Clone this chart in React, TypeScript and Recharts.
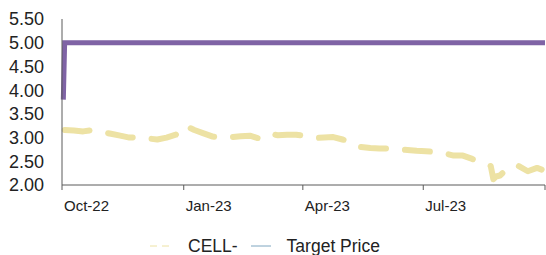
import React from 'react';
import { LineChart, Line, XAxis, YAxis, Legend } from 'recharts';

const FONT = '"Liberation Sans", Arial, sans-serif';

// CELL- closing price (roughly weekly)
const cellDates = [
    '2022-10-03', '2022-10-10', '2022-10-17', '2022-10-24', '2022-10-31', '2022-11-07', '2022-11-14',
    '2022-11-21', '2022-11-28', '2022-12-05', '2022-12-12', '2022-12-19', '2022-12-26', '2023-01-02',
    '2023-01-09', '2023-01-16', '2023-01-23', '2023-01-30', '2023-02-06', '2023-02-13', '2023-02-20',
    '2023-02-27', '2023-03-06', '2023-03-13', '2023-03-20', '2023-03-27', '2023-04-03', '2023-04-10',
    '2023-04-17', '2023-04-24', '2023-05-01', '2023-05-08', '2023-05-15', '2023-05-22', '2023-05-29',
    '2023-06-05', '2023-06-12', '2023-06-19', '2023-06-26', '2023-07-03', '2023-07-10', '2023-07-17',
    '2023-07-24', '2023-07-31', '2023-08-07', '2023-08-14', '2023-08-21', '2023-08-23', '2023-08-25',
    '2023-08-28', '2023-09-04', '2023-09-11', '2023-09-18', '2023-09-25', '2023-09-29',
];
const cellValues = [
    3.16, 3.15, 3.13, 3.16, 3.12, 3.08, 3.04,
    3.0, 3.01, 2.98, 2.96, 3.0, 3.06, 3.25,
    3.16, 3.09, 3.02, 2.99, 3.01, 3.03, 3.04,
    2.98, 3.08, 3.05, 3.06, 3.06, 3.03, 2.99,
    3.0, 3.01, 2.96, 2.9, 2.8, 2.78, 2.77,
    2.77, 2.75, 2.74, 2.72, 2.71, 2.7, 2.67,
    2.62, 2.62, 2.55, 2.46, 2.4, 2.12, 2.18,
    2.2, 2.38, 2.4, 2.29, 2.36, 2.32,
];

// Target price
const targetDates = ['2022-10-02', '2022-10-03', '2023-10-01'];
const targetValues = [3.8, 5.0, 5.0];

const xTickDates = ['2022-10-01', '2023-01-01', '2023-04-01', '2023-07-01', '2023-10-01'];
const xTickLabels = ['Oct-22', 'Jan-23', 'Apr-23', 'Jul-23', ''];
const yTicks = [2.0, 2.5, 3.0, 3.5, 4.0, 4.5, 5.0, 5.5];

const ts = (d: string) => new Date(d + 'T00:00:00Z').getTime();

const cellData = cellDates.map((d, i) => ({ t: ts(d), value: cellValues[i] }));
const targetData = targetDates.map((d, i) => ({ t: ts(d), value: targetValues[i] }));
const xTicks = xTickDates.map(ts);

const XTick = (props: any) => {
    const { x, y, payload } = props;
    const idx = xTicks.indexOf(payload.value);
    return (
        <text x={x + 2} y={y} dy="0.71em" textAnchor="start" fontSize={15} fontFamily={FONT} fill="#222">
            {xTickLabels[idx]}
        </text>
    );
};

const LegendContent = () => (
    <div style={{ display: 'flex', alignItems: 'center', paddingLeft: 150, height: 20, fontFamily: FONT, fontSize: 17.5, color: '#222' }}>
        <svg width={20} height={4} style={{ marginRight: 18 }}>
            <line x1={0} y1={2} x2={20} y2={2} stroke="#EDE2A4" strokeWidth={1} strokeDasharray="7 5" />
        </svg>
        <span style={{ marginRight: 13 }}>CELL-</span>
        <svg width={20} height={4} style={{ marginRight: 16 }}>
            <line x1={0} y1={2} x2={20} y2={2} stroke="#7EA6C0" strokeWidth={1} />
        </svg>
        <span>Target Price</span>
    </div>
);

export default function App() {
    return (
        <div style={{ position: 'absolute', left: 0, top: 0, background: '#fff' }}>
            <LineChart width={546} height={255} margin={{ top: 19, right: 1, left: 0, bottom: 0 }}>
                <XAxis
                    dataKey="t"
                    type="number"
                    scale="linear"
                    domain={[xTicks[0], xTicks[xTicks.length - 1]]}
                    ticks={xTicks}
                    interval={0}
                    allowDuplicatedCategory={false}
                    height={50}
                    tickSize={5}
                    tickMargin={10}
                    stroke="#5a5a5a"
                    tick={<XTick />}
                />
                <YAxis
                    domain={[2, 5.5]}
                    ticks={yTicks}
                    interval={0}
                    width={62}
                    tickLine={false}
                    tickMargin={12}
                    stroke="#5a5a5a"
                    tickFormatter={(v: number) => v.toFixed(2)}
                    tick={{ fontSize: 18, fontFamily: FONT, fill: '#222' }}
                />
                <Legend verticalAlign="bottom" height={20} content={<LegendContent />} wrapperStyle={{ bottom: -1, left: 0, width: 546 }} />
                <Line
                    data={cellData}
                    dataKey="value"
                    name="CELL-"
                    type="linear"
                    stroke="#EDE2A4"
                    strokeWidth={6}
                    strokeDasharray="25 19"
                    strokeLinecap="round"
                    strokeLinejoin="round"
                    dot={false}
                    isAnimationActive={false}
                />
                <Line
                    data={targetData}
                    dataKey="value"
                    name="Target Price"
                    type="linear"
                    stroke="#7F63A5"
                    strokeWidth={5}
                    strokeLinejoin="miter"
                    dot={false}
                    isAnimationActive={false}
                />
            </LineChart>
        </div>
    );
}
